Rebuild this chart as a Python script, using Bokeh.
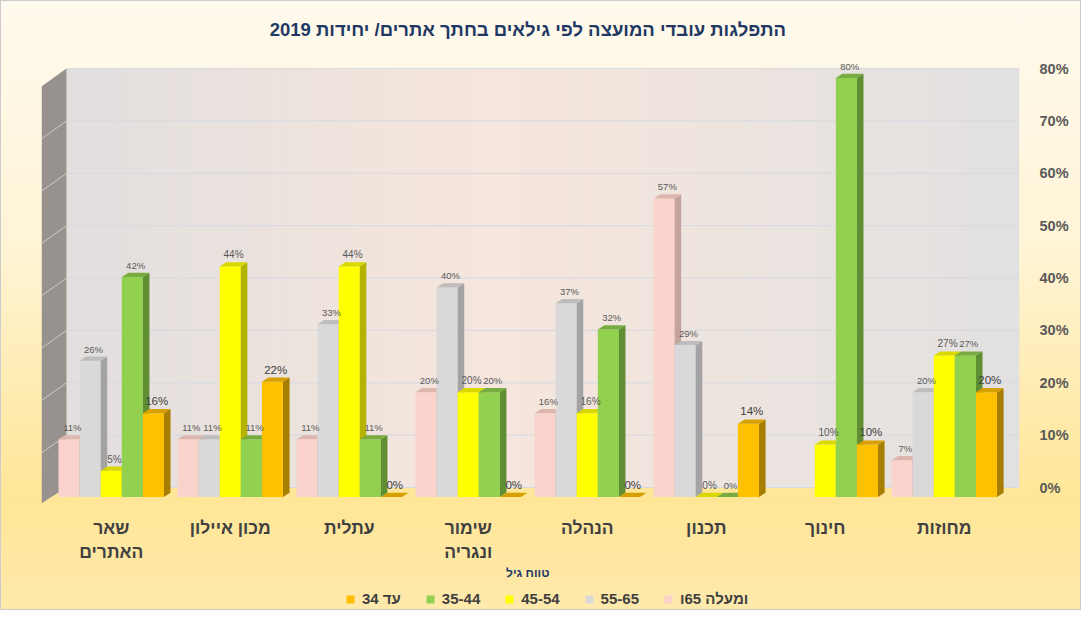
import numpy as np
from bokeh.plotting import figure
from bokeh.models import (ColumnDataSource, FixedTicker, NumeralTickFormatter,
                          Legend, LegendItem, Range1d)
from bokeh.embed import file_html
from bokeh.resources import INLINE
from bokeh.core.properties import value

# ---------------- data ----------------
categories = ["שאר\nהאתרים", "מכון איילון", "עתלית", "שימור\nונגריה",
              "הנהלה", "תכנון", "חינוך", "מחוזות"]
series_names = ["ומעלה 65ו", "55-65", "45-54", "35-44", "עד 34"]
age_65_plus = [0.11, 0.11, 0.11, 0.20, 0.16, 0.57, None, 0.07]
age_55_65 = [0.26, 0.11, 0.33, 0.40, 0.37, 0.29, None, 0.20]
age_45_54 = [0.05, 0.44, 0.44, 0.20, 0.16, 0.00, 0.10, 0.27]
age_35_44 = [0.42, 0.11, 0.11, 0.20, 0.32, 0.00, 0.80, 0.27]
age_upto_34 = [0.16, 0.22, 0.00, 0.00, 0.00, 0.14, 0.10, 0.20]
y_ticks = [0.0, 0.1, 0.2, 0.3, 0.4, 0.5, 0.6, 0.7, 0.8]
title_text = "התפלגות עובדי המועצה לפי גילאים בחתך אתרים/ יחידות  2019"
axis_title = "טווח גיל"

series_values = [age_65_plus, age_55_65, age_45_54, age_35_44, age_upto_34]

# ---------------- style ----------------
front_colors = ["#F9D3CC", "#D9D9D9", "#FFFF00", "#92D050", "#FFC000"]
side_colors = ["#C2A39D", "#A3A3A3", "#B3B300", "#5F8E33", "#A87E00"]
top_colors = ["#DDB6AE", "#BDBDBD", "#D9D900", "#78AC40", "#D6A000"]
label_colors = ["#595959", "#595959", "#595959", "#595959", "#404040"]
label_sizes = ["9.5px", "9.5px", "10px", "9.5px", "11.5px"]
FONT = "Liberation Sans"

BAR_W = 0.1773
DX = 0.055
DY = 0.008
BASE = -0.018
X_START, X_END = -0.586, 7.632
Y_START, Y_END = -0.2348, 0.825
WALL_TOP = 0.8
WALL_BOTTOM = -0.03
WALL_X = -0.376
WALL_DROP = 0.034

p = figure(frame_width=978, frame_height=555,
           x_range=Range1d(X_START, X_END), y_range=Range1d(Y_START, Y_END),
           y_axis_location="right", output_backend="svg", toolbar_location=None,
           min_border_left=41, min_border_right=62, min_border_top=55,
           min_border_bottom=0)
p.border_fill_color = None
p.background_fill_color = None
p.outline_line_color = None
p.styles = {
    "background": "linear-gradient(180deg, #FFFAEE 0%, #FFF4D6 40%, #FFE697 82%, #FFE9AC 100%)",
    "box-shadow": "inset 0 0 0 1px #CCCCCC",
}

# back wall gradient
N = 256
t = np.linspace(0, 1, N)
stops = [0.0, 0.45, 1.0]
cr = np.interp(t, stops, [226, 247, 226])
cg = np.interp(t, stops, [223, 231, 225])
cb = np.interp(t, stops, [223, 221, 225])
img = np.empty((1, N), dtype=np.uint32)
view = img.view(dtype=np.uint8).reshape((1, N, 4))
view[0, :, 0] = cr.astype(np.uint8)
view[0, :, 1] = cg.astype(np.uint8)
view[0, :, 2] = cb.astype(np.uint8)
view[0, :, 3] = 255
p.image_rgba(image=[img], x=WALL_X, y=0, dw=X_END - WALL_X, dh=WALL_TOP, level="image")

# grid (drawn only on the back wall)
p.xgrid.visible = False
p.ygrid.visible = False
p.segment(x0=[WALL_X] * len(y_ticks), y0=y_ticks, x1=[X_END] * len(y_ticks), y1=y_ticks,
          line_color="#D4D9E2", line_width=1)

# left wall (3D side)
p.patch([X_START, WALL_X, WALL_X, X_START],
        [WALL_TOP - WALL_DROP, WALL_TOP, 0, WALL_BOTTOM],
        fill_color="#98928F", line_color=None)
p.segment(x0=[X_START] * (len(y_ticks) - 2), y0=[v - WALL_DROP for v in y_ticks[1:-1]],
          x1=[WALL_X] * (len(y_ticks) - 2), y1=y_ticks[1:-1],
          line_color="#DADADA", line_width=1, line_alpha=0.8)

# bars
renderers = []
label_data = []
for k, vals in enumerate(series_values):
    xs, tops, labels = [], [], []
    for i, v in enumerate(vals):
        if v is None:
            continue
        xs.append(i + (k - 2) * BAR_W)
        tops.append(v + BASE)
        labels.append(f"{round(v * 100)}%")
    src = ColumnDataSource(dict(x=xs, top=tops))
    r = p.vbar(x="x", width=BAR_W, bottom=BASE, top="top", source=src,
               fill_color=front_colors[k], line_color=None)
    renderers.append(r)
    side_x, side_y, top_x, top_y = [], [], [], []
    for x, tp in zip(xs, tops):
        xl, xr = x - BAR_W / 2, x + BAR_W / 2
        side_x.append([xr, xr + DX, xr + DX, xr])
        side_y.append([BASE, BASE + DY, tp + DY, tp])
        top_x.append([xl, xl + DX, xr + DX, xr])
        top_y.append([tp, tp + DY, tp + DY, tp])
    p.patches(side_x, side_y, fill_color=side_colors[k], line_color=None)
    p.patches(top_x, top_y, fill_color=top_colors[k], line_color=None)
    label_data.append((xs, tops, labels))

for k, (xs, tops, labels) in enumerate(label_data):
    p.text(x=[x + DX / 2 for x in xs], y=[tp + DY for tp in tops], text=labels,
           text_align="center", text_baseline="bottom", y_offset=-2,
           text_font=value(FONT), text_font_size=label_sizes[k],
           text_color=label_colors[k])

# category axis labels (drawn under the floor, at each group's position)
p.xaxis.visible = False
p.text(x=list(range(len(categories))), y=[WALL_BOTTOM] * len(categories), text=categories,
       text_align="center", text_baseline="top", y_offset=15, text_line_height=1.2,
       text_font=value(FONT), text_font_size="17.5px", text_font_style="bold",
       text_color="#404040")
# axis title
p.text(x=[(len(categories) - 1) / 2], y=[WALL_BOTTOM], text=[axis_title],
       text_align="center", text_baseline="middle", y_offset=70,
       text_font=value(FONT), text_font_size="12px", text_font_style="bold",
       text_color="#1F3864")

ya = p.yaxis[0]
ya.ticker = FixedTicker(ticks=y_ticks)
ya.formatter = NumeralTickFormatter(format="0%")
ya.major_label_text_font = FONT
ya.major_label_text_font_size = "14.5px"
ya.major_label_text_font_style = "bold"
ya.major_label_text_color = "#595959"
ya.major_label_standoff = 14
ya.axis_line_color = None
ya.major_tick_line_color = None
ya.minor_tick_line_color = None

# title
p.title.text = title_text
p.title.align = "center"
p.title.text_font = FONT
p.title.text_font_size = "18.5px"
p.title.text_font_style = "bold"
p.title.text_color = "#1F3864"
p.title.standoff = 31

# legend (left to right: orange, green, yellow, grey, pink)
items = [LegendItem(label=series_names[k], renderers=[renderers[k]]) for k in [4, 3, 2, 1, 0]]
legend = Legend(items=items, orientation="horizontal", location=(304, 3),
                label_text_font=FONT, label_text_font_size="15px",
                label_text_font_style="bold", label_text_color="#404040",
                glyph_width=10, glyph_height=10, label_height=16,
                spacing=24, label_standoff=7,
                background_fill_alpha=0, border_line_color=None,
                padding=0, margin=0)
p.add_layout(legend, "center")

open("out.html", "w").write(file_html(p, INLINE))
